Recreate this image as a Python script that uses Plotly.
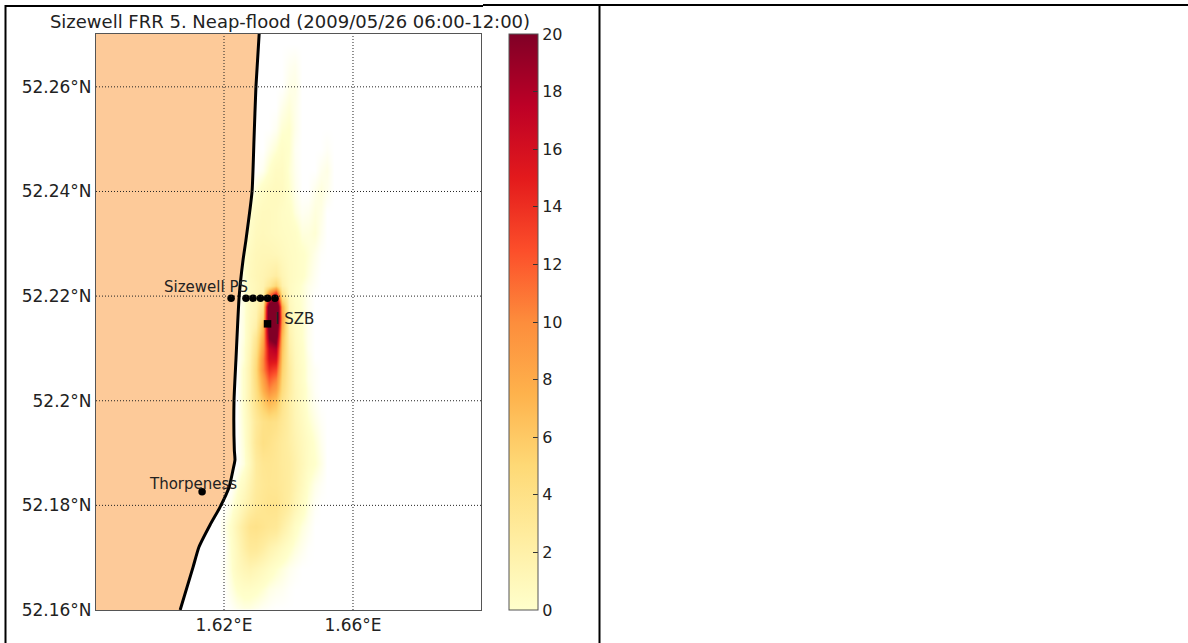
import plotly.graph_objects as go

TITLE = "Sizewell FRR 5. Neap-flood (2009/05/26 06:00-12:00)"
lon_ticks = [1.62, 1.66]
lon_labels = ["1.62°E", "1.66°E"]
lat_ticks = [52.16, 52.18, 52.20, 52.22, 52.24, 52.26]
lat_labels = ["52.16°N", "52.18°N", "52.2°N", "52.22°N", "52.24°N", "52.26°N"]
cbar_ticks = list(range(0, 21, 2))

coast_lon = [1.6309, 1.6299, 1.6293, 1.6287, 1.6268, 1.6259, 1.6247, 1.6237, 1.6231, 1.6232,
             1.6234, 1.6228, 1.6216, 1.6188, 1.6157, 1.6122, 1.6104, 1.6064]
coast_lat = [52.2701, 52.26, 52.2499, 52.24, 52.2307, 52.2269, 52.22, 52.2078, 52.2, 52.1906,
             52.1887, 52.1868, 52.1835, 52.1797, 52.1763, 52.172, 52.1682, 52.16]

outfall_lon = [1.6222, 1.6268, 1.6290, 1.6313, 1.6335, 1.6358]
outfall_lat = [52.2196, 52.2196, 52.2196, 52.2196, 52.2196, 52.2196]
szb_lon = [1.6335]
szb_lat = [52.2147]
thorpe_lon = [1.6132]
thorpe_lat = [52.1826]

grid_lon = [1.620, 1.622, 1.624, 1.626, 1.628, 1.630, 1.632, 1.634, 1.636,
            1.638, 1.640, 1.642, 1.644, 1.646, 1.648, 1.650, 1.652, 1.654]
grid_lat = [52.160, 52.164, 52.168, 52.172, 52.176, 52.180, 52.184, 52.188, 52.192, 52.196,
            52.200, 52.202, 52.204, 52.206, 52.208, 52.210, 52.212, 52.214, 52.216, 52.218,
            52.220, 52.222, 52.224, 52.228, 52.232, 52.236, 52.240, 52.244, 52.248, 52.252,
            52.256, 52.260, 52.264, 52.268]
density = [
    [0, .05, .2, .3, .3, .2, .1, .05, 0, 0, 0, 0, 0, 0, 0, 0, 0, 0],
    [0, .3, .6, .8, .8, .7, .5, .3, .2, .15, .05, 0, 0, 0, 0, 0, 0, 0],
    [.1, .5, 1.1, 1.5, 1.7, 1.5, 1.2, .9, .6, .4, .2, .1, 0, 0, 0, 0, 0, 0],
    [0, .6, 1.3, 2.2, 2.9, 2.9, 2.4, 1.9, 1.5, 1.1, .7, .4, .2, .05, 0, 0, 0, 0],
    [.2, .7, 1.6, 2.6, 3.6, 3.8, 3.5, 3.2, 3, 2.2, 1.5, .8, .4, .2, 0, 0, 0, 0],
    [0, .3, .8, 1.6, 2.2, 2.9, 3.3, 3.6, 3.6, 3, 2.4, 1.6, .9, .4, .1, 0, 0, 0],
    [0, 0, .4, 1, 1.8, 2.6, 3.1, 3.3, 3.2, 2.9, 2.5, 1.9, 1.2, .6, .25, .1, 0, 0],
    [0, 0, 0, .4, 1.3, 2.6, 3.3, 3.4, 3.2, 2.8, 2.5, 2, 1.4, .9, .6, .3, 0, 0],
    [0, 0, 0, .5, 1.6, 3.1, 4.1, 3.8, 3.3, 2.8, 2.3, 1.8, 1.3, .9, .5, .2, 0, 0],
    [0, 0, 0, .6, 1.6, 2.9, 3.9, 4.2, 3.9, 3.1, 2.3, 1.6, 1.1, .6, .3, .1, 0, 0],
    [0, 0, 0, .7, 2, 3.8, 6, 7.5, 6.5, 3.8, 2.3, 1.5, .9, .4, .15, 0, 0, 0],
    [0, 0, 0, .7, 2, 4.2, 7.5, 10, 8.5, 4.5, 2.5, 1.5, .9, .4, .1, 0, 0, 0],
    [0, 0, 0, .7, 2, 4.6, 8.5, 12, 10.5, 5, 2.6, 1.4, .8, .3, .1, 0, 0, 0],
    [0, 0, 0, .7, 2, 4.8, 10, 14, 13, 5.5, 2.6, 1.4, .8, .3, .1, 0, 0, 0],
    [0, 0, 0, .5, 1.8, 4.4, 10, 16, 16, 6, 2.4, 1.3, .7, .3, 0, 0, 0, 0],
    [0, 0, 0, .5, 1.6, 3.8, 9, 17, 18, 6.5, 2.2, 1.2, .7, .2, 0, 0, 0, 0],
    [0, 0, 0, .4, 1.4, 3.2, 8, 20, 22, 7, 2, 1.1, .6, .2, 0, 0, 0, 0],
    [0, 0, 0, .4, 1.3, 2.2, 7, 22, 25, 8, 1.8, 1, .6, .2, 0, 0, 0, 0],
    [0, 0, 0, .4, 1.2, 1.8, 5, 24, 28, 9, 1.6, .9, .6, .2, 0, 0, 0, 0],
    [0, 0, 0, .4, 1.1, 1.6, 3.5, 24, 28, 8, 1.4, .8, .5, .2, 0, 0, 0, 0],
    [0, 0, 0, .4, 1.1, 1.5, 2, 12, 18, 4, 1.2, .7, .5, .2, 0, 0, 0, 0],
    [0, 0, 0, .4, 1.1, 1.4, 1.8, 3, 5, 2, 1.1, .8, .5, .25, .1, 0, 0, 0],
    [0, 0, 0, .5, 1.2, 1.5, 1.7, 2, 2.4, 1.6, 1.1, .9, .7, .4, .15, 0, 0, 0],
    [0, 0, 0, .6, 1.1, 1.4, 1.5, 1.5, 1.4, 1.2, 1, .9, .7, .5, .25, .05, 0, 0],
    [0, 0, 0, .1, .8, 1.2, 1.3, 1.2, 1.1, 1, .9, .8, .4, .4, .5, .2, 0, 0],
    [0, 0, 0, 0, .6, 1, 1.2, 1.2, 1.1, .9, .8, .4, .15, .2, .4, .3, 0, 0],
    [0, 0, 0, 0, .1, .5, .9, 1.1, 1.2, 1.1, .6, .25, 0, 0, .25, .4, .2, 0],
    [0, 0, 0, 0, 0, 0, .2, .6, 1, 1, .5, .2, 0, 0, 0, .2, .3, 0],
    [0, 0, 0, 0, 0, 0, 0, .25, .5, .8, .6, .15, 0, 0, 0, 0, .1, 0],
    [0, 0, 0, 0, 0, 0, 0, 0, .15, .5, .6, .25, 0, 0, 0, 0, 0, 0],
    [0, 0, 0, 0, 0, 0, 0, 0, 0, .25, .45, .25, 0, 0, 0, 0, 0, 0],
    [0, 0, 0, 0, 0, 0, 0, 0, 0, 0, .25, .3, 0, 0, 0, 0, 0, 0],
    [0, 0, 0, 0, 0, 0, 0, 0, 0, 0, .15, .2, 0, 0, 0, 0, 0, 0],
    [0, 0, 0, 0, 0, 0, 0, 0, 0, 0, 0, 0, 0, 0, 0, 0, 0, 0],
]

YLORRD = [[0, "#ffffcc"], [.125, "#ffeda0"], [.25, "#fed976"], [.375, "#feb24c"], [.5, "#fd8d3c"],
          [.625, "#fc4e2a"], [.75, "#e31a1c"], [.875, "#bd0026"], [1, "#800026"]]
PLUME = [[0, "#ffffff"], [.03, "#ffffcc"], [.125, "#ffeda0"], [.25, "#fed976"], [.375, "#feb24c"],
         [.5, "#fd8d3c"], [.625, "#fc4e2a"], [.75, "#e31a1c"], [.875, "#bd0026"], [1, "#800026"]]
INK = "#222222"
W, H = 1188, 643
LON0, LON1, LAT0, LAT1 = 1.5803, 1.6997, 52.16, 52.2701

fig = go.Figure()
fig.add_trace(go.Heatmap(x=grid_lon, y=grid_lat, z=density, zmin=0, zmax=20, colorscale=PLUME,
                         zsmooth="best", showscale=False, hoverinfo="skip"))
fig.add_trace(go.Scatter(x=coast_lon + [LON0, LON0], y=coast_lat + [LAT0, LAT1], mode="lines",
                         fill="toself", fillcolor="#fdca99", line=dict(width=0), hoverinfo="skip"))
fig.add_trace(go.Scatter(x=coast_lon, y=coast_lat, mode="lines",
                         line=dict(color="#000000", width=3, shape="spline", smoothing=0.5), hoverinfo="skip"))
fig.add_trace(go.Scatter(x=outfall_lon + thorpe_lon, y=outfall_lat + thorpe_lat, mode="markers",
                         marker=dict(color="#000000", size=7.5), hoverinfo="skip"))
fig.add_trace(go.Scatter(x=szb_lon, y=szb_lat, mode="markers",
                         marker=dict(color="#000000", size=7.5, symbol="square"), hoverinfo="skip"))
fig.add_trace(go.Scatter(x=[None], y=[None], mode="markers", hoverinfo="skip", marker=dict(
    color=[0], cmin=0, cmax=20, colorscale=YLORRD, showscale=True,
    colorbar=dict(x=509 / W, xanchor="left", xpad=0, y=(H - 610) / H, yanchor="bottom", ypad=0,
                  lenmode="pixels", len=576, thicknessmode="pixels", thickness=29,
                  tickvals=cbar_ticks, ticks="inside", ticklen=5, tickcolor="#333333",
                  tickfont=dict(family="DejaVu Sans", size=16, color=INK),
                  outlinecolor="#555555", outlinewidth=1, borderwidth=0))))

shapes = []
for v in lon_ticks:
    shapes.append(dict(type="line", xref="x", yref="paper", x0=v, x1=v,
                       y0=(H - 610) / H, y1=(H - 34) / H, layer="above",
                       line=dict(color="#222222", width=1, dash="1px,2px")))
for v in lat_ticks[1:]:
    shapes.append(dict(type="line", xref="paper", yref="y", y0=v, y1=v,
                       x0=96 / W, x1=481 / W, layer="above",
                       line=dict(color="#222222", width=1, dash="1px,2px")))
for (x0, y0, x1, y1) in [(5.5, 643, 5.5, 5), (599.5, 643, 599.5, 5), (5, 6, 483, 6), (483, 5, W, 5)]:
    shapes.append(dict(type="line", xref="paper", yref="paper", x0=x0 / W, x1=x1 / W,
                       y0=1 - y0 / H, y1=1 - y1 / H, line=dict(color="#000000", width=2)))

fig.update_layout(
    width=W, height=H, margin=dict(l=0, r=0, t=0, b=0), autosize=False,
    paper_bgcolor="#ffffff", plot_bgcolor="#ffffff", showlegend=False, shapes=shapes,
    font=dict(family="DejaVu Sans", size=15, color=INK),
    title=dict(text=TITLE, x=290 / W, xanchor="center", y=1 - 22 / H, yanchor="middle",
               font=dict(family="DejaVu Sans", size=18, color=INK)),
    xaxis=dict(domain=[96 / W, 481 / W], range=[LON0, LON1], tickvals=lon_ticks, ticktext=lon_labels,
               automargin=False, showgrid=False, zeroline=False, showline=True, mirror=True,
               linecolor="#555555", linewidth=1, ticks="", tickfont=dict(size=17, color=INK)),
    yaxis=dict(domain=[(H - 610) / H, (H - 34) / H], range=[LAT0, LAT1], tickvals=lat_ticks,
               ticktext=lat_labels, automargin=False, showgrid=False, zeroline=False, showline=True,
               mirror=True, linecolor="#555555", linewidth=1, ticks="", tickfont=dict(size=17, color=INK)),
    annotations=[
        dict(x=1.6008, y=52.2218, text="Sizewell PS", showarrow=False, xanchor="left", yanchor="middle",
             font=dict(size=15, color=INK)),
        dict(x=1.5962, y=52.1841, text="Thorpeness", showarrow=False, xanchor="left", yanchor="middle",
             font=dict(size=15, color=INK)),
        dict(x=1.6353, y=52.2157, text="I SZB", showarrow=False, xanchor="left", yanchor="middle",
             font=dict(size=15, color=INK)),
    ],
)

fig.write_html("out.html", config={"displayModeBar": False},
               post_script="document.body.style.margin='0';")
